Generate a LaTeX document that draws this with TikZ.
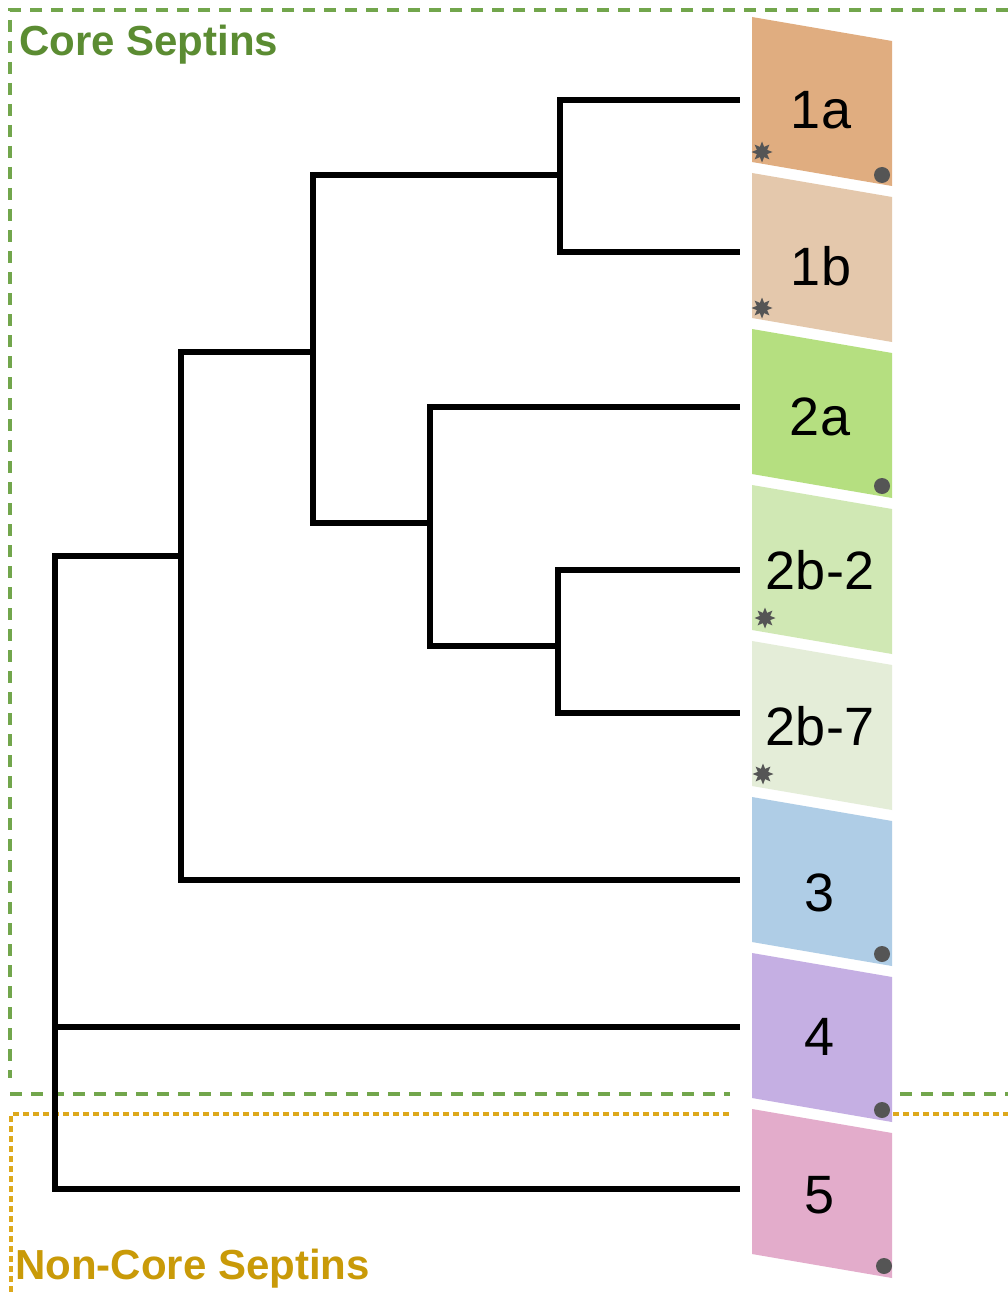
\documentclass[tikz,border=0pt]{standalone}
\usepackage{fontspec}
\setmainfont{Liberation Sans}
\usetikzlibrary{shapes.geometric}
\definecolor{coregreen}{HTML}{5B8C32}
\definecolor{coredash}{HTML}{72A64C}
\definecolor{noncoregold}{HTML}{C99A08}
\definecolor{noncoredash}{HTML}{DDA91C}
\definecolor{markgray}{HTML}{555555}
\definecolor{cA}{HTML}{E0AD80}
\definecolor{cB}{HTML}{E4C8AC}
\definecolor{cC}{HTML}{B5DF80}
\definecolor{cD}{HTML}{D0E8B4}
\definecolor{cE}{HTML}{E4EDD8}
\definecolor{cF}{HTML}{AFCDE6}
\definecolor{cG}{HTML}{C5AFE3}
\definecolor{cH}{HTML}{E3ACCB}
\tikzset{
  branch/.style={line width=6pt, line join=miter, black},
  coreline/.style={coredash, line width=3.4pt, dash pattern=on 12pt off 9pt},
  noncoreline/.style={noncoredash, line width=3.4pt, dash pattern=on 6pt off 4pt},
  leaflabel/.style={font=\fontsize{54}{60}\selectfont, inner sep=0pt, anchor=center},
  grouptitle/.style={font=\bfseries\fontsize{42}{48}\selectfont, inner sep=0pt, anchor=base west},
  starmark/.style={star, star points=8, star point ratio=1.9, minimum size=21pt, inner sep=0pt, fill=markgray},
  dotmark/.style={circle, minimum size=16pt, inner sep=0pt, fill=markgray}
}
% slanted box: #1 colour, #2 top-left y
\newcommand\sepbox[2]{%
  \fill[#1] (752,#2) -- (892,#2+24) -- (892,#2+169) -- (752,#2+145) -- cycle;}
\begin{document}
\begin{tikzpicture}[x=1pt,y=-1pt]
\useasboundingbox (0,0) rectangle (1008,1292);
\fill[white] (0,0) rectangle (1008,1292);

% group frames
\draw[coreline] (1008,10) -- (10,10) -- (10,1078);
\draw[coreline] (10,1094) -- (730,1094);
\draw[coreline] (900,1094) -- (1008,1094);
\draw[noncoreline] (11,1292) -- (11,1114) -- (730,1114);
\draw[noncoreline] (893,1114) -- (1008,1114);

\node[grouptitle, text=coregreen] (core) at (19,56) {Core Septins};
\node[grouptitle, text=noncoregold] (noncore) at (15,1279) {Non-Core Septins};

% septin group boxes
\sepbox{cA}{17}
\sepbox{cB}{173}
\sepbox{cC}{329}
\sepbox{cD}{485}
\sepbox{cE}{641}
\sepbox{cF}{797}
\sepbox{cG}{953}
\sepbox{cH}{1109}

\node[leaflabel] (l1a) at (821,110) {1a};
\node[leaflabel] (l1b) at (821,266) {1b};
\node[leaflabel] (l2a) at (820,417) {2a};
\node[leaflabel] (l2b2) at (820,570) {2b-2};
\node[leaflabel] (l2b7) at (820,726) {2b-7};
\node[leaflabel] (l3) at (820,893) {3};
\node[leaflabel] (l4) at (820,1037) {4};
\node[leaflabel] (l5) at (820,1195) {5};

% markers
\node[starmark] (s1a) at (762,152) {};
\node[starmark] (s1b) at (762,308) {};
\node[starmark] (s2b2) at (765,618) {};
\node[starmark] (s2b7) at (763,774) {};
\node[dotmark] (d1a) at (882,175) {};
\node[dotmark] (d2a) at (882,486) {};
\node[dotmark] (d3) at (882,954) {};
\node[dotmark] (d4) at (882,1110) {};
\node[dotmark] (d5) at (884,1266) {};

% leaf tips
\coordinate (t1a) at (740,100);
\coordinate (t1b) at (740,252);
\coordinate (t2a) at (740,407);
\coordinate (t2b2) at (740,570);
\coordinate (t2b7) at (740,713);
\coordinate (t3) at (740,880);
\coordinate (t4) at (740,1027);
\coordinate (t5) at (740,1189);

% internal nodes (vertical bar x, joining height)
\coordinate (nA) at (560,175);
\coordinate (nB) at (558,646);
\coordinate (nC) at (430,523);
\coordinate (nD) at (313,352);
\coordinate (nE) at (181,556);
\coordinate (nF) at (55,556);

% tree
\draw[branch] (nA) |- (t1a);
\draw[branch] (nA) |- (t1b);
\draw[branch] (nB) |- (t2b2);
\draw[branch] (nB) |- (t2b7);
\draw[branch] (nC) |- (t2a);
\draw[branch] (nC) |- (nB);
\draw[branch] (nD) |- (nA);
\draw[branch] (nD) |- (nC);
\draw[branch] (nE) |- (nD);
\draw[branch] (nE) |- (t3);
\draw[branch] (nE) -- (nF) |- (t5);
\draw[branch] (nF) |- (t4);
\end{tikzpicture}
\end{document}
